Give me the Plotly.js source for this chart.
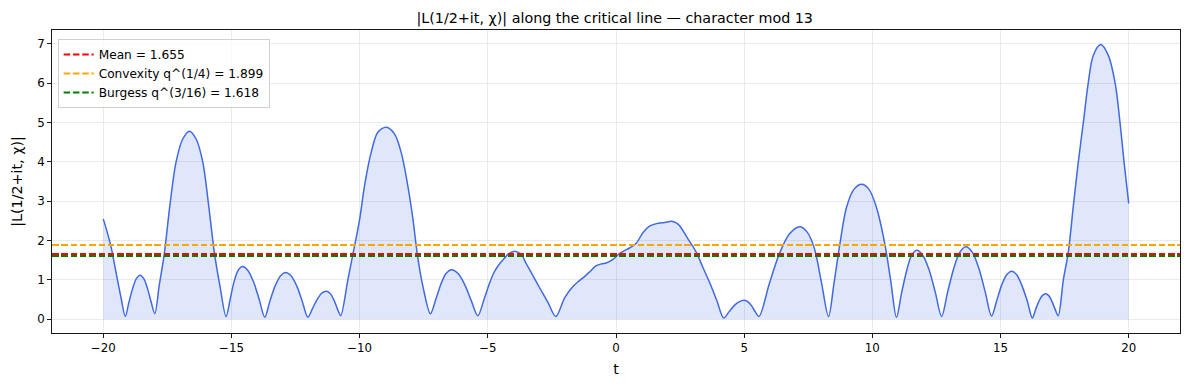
<!DOCTYPE html>
<html>
<head>
<meta charset="utf-8">
<script src="https://cdn.plot.ly/plotly-3.0.1.min.js"></script>
<style>html,body{margin:0;padding:0;background:#fff;}#chart{width:1189px;height:390px;}
.shapelayer path{shape-rendering:crispEdges;}</style>
</head>
<body>
<div id="chart"></div>
<script>
// Values read (estimated) from the reference picture
const tValues = [
  -20, -19.85, -19.7, -19.57, -19.44, -19.3, -19.14,
  -19.0, -18.85, -18.71, -18.56, -18.42, -18.28, -18.13, -17.99,
  -17.82, -17.62, -17.4, -17.16, -16.9, -16.64, -16.38, -16.12, -15.9, -15.66, -15.45, -15.21,
  -15.05, -14.9, -14.74, -14.58, -14.36, -14.14, -13.92, -13.70,
  -13.5, -13.3, -13.09, -12.89, -12.67, -12.45, -12.24, -12.02,
  -11.84, -11.66, -11.48, -11.3, -11.16, -11.01, -10.87, -10.74,
  -10.46, -10.26, -10.0, -9.81, -9.55, -9.29, -8.96, -8.64, -8.38, -8.12, -7.92, -7.75, -7.53, -7.24,
  -7.04, -6.83, -6.63, -6.42, -6.16, -5.91, -5.65, -5.39,
  -5.15, -4.93, -4.75, -4.54, -4.35, -4.2, -3.95, -3.7, -3.5, -3.25, -2.98, -2.65, -2.35,
  -2.0, -1.68, -1.45, -1.22, -1.0, -0.77, -0.55, -0.38, -0.12, 0.14, 0.35, 0.53, 0.80, 1.05, 1.32,
  1.58, 1.9, 2.16, 2.35, 2.49, 2.8, 3.14, 3.4, 3.66, 3.93, 4.20,
  4.4, 4.6, 4.8, 5.0, 5.15, 5.29, 5.44, 5.58,
  5.98, 6.37, 6.77, 7.17, 7.45, 7.73, 8.01, 8.29,
  8.5, 8.73, 8.99, 9.28, 9.58, 9.87, 10.16, 10.49, 10.72, 10.94,
  11.14, 11.34, 11.53, 11.73, 11.97, 12.22, 12.46, 12.70,
  12.94, 13.18, 13.41, 13.65, 13.9, 14.15, 14.4, 14.65,
  14.85, 15.04, 15.24, 15.43, 15.63, 15.83, 16.04, 16.24,
  16.37, 16.5, 16.63, 16.76, 16.88, 17.0, 17.13, 17.25,
  17.45, 17.64, 17.84, 18.03, 18.23, 18.42, 18.62, 18.91, 19.2, 19.47, 19.66, 19.82, 20.0
];
const absL = [
  2.55, 2.22, 1.85, 1.42, 0.98, 0.52, 0.07,
  0.43, 0.79, 1.03, 1.12, 1.03, 0.79, 0.43, 0.14,
  0.85, 1.66, 2.9, 4.0, 4.58, 4.78, 4.58, 4.0, 2.95, 1.66, 0.85, 0.07,
  0.51, 0.95, 1.24, 1.34, 1.24, 0.95, 0.51, 0.05,
  0.46, 0.84, 1.1, 1.19, 1.1, 0.84, 0.46, 0.05,
  0.27, 0.5, 0.66, 0.71, 0.66, 0.5, 0.27, 0.09,
  1.0, 1.66, 2.54, 3.39, 4.24, 4.75, 4.88, 4.71, 4.24, 3.39, 2.54, 1.65, 0.83, 0.14,
  0.48, 0.89, 1.16, 1.26, 1.16, 0.89, 0.48, 0.09,
  0.5, 0.92, 1.2, 1.41, 1.55, 1.66, 1.73, 1.65, 1.41, 1.12, 0.8, 0.42, 0.07,
  0.55, 0.83, 0.97, 1.09, 1.22, 1.36, 1.41, 1.43, 1.52, 1.67, 1.75, 1.81, 1.94, 2.2, 2.37,
  2.43, 2.46, 2.49, 2.45, 2.37, 2.05, 1.69, 1.3, 0.92, 0.48, 0.03,
  0.18, 0.34, 0.44, 0.48, 0.44, 0.34, 0.18, 0.07,
  0.9, 1.66, 2.17, 2.35, 2.22, 1.82, 0.95, 0.07,
  0.9, 1.9, 2.84, 3.3, 3.43, 3.3, 2.84, 1.9, 0.96, 0.05,
  0.67, 1.24, 1.62, 1.75, 1.62, 1.24, 0.67, 0.07,
  0.70, 1.30, 1.70, 1.84, 1.70, 1.30, 0.70, 0.08,
  0.47, 0.86, 1.13, 1.22, 1.13, 0.86, 0.47, 0.03,
  0.25, 0.46, 0.6, 0.65, 0.6, 0.46, 0.25, 0.09,
  1.0, 1.69, 2.88, 3.98, 5.0, 6.0, 6.71, 6.98, 6.71, 6.0, 5.0, 3.98, 2.94
];
const refNames = ["Mean = 1.655", "Convexity q^(1/4) = 1.899", "Burgess q^(3/16) = 1.618"];
const refValues = [1.655, 1.899, 1.618];
const refColors = ["red", "orange", "green"];
const xTicks = [-20, -15, -10, -5, 0, 5, 10, 15, 20];
const yTicks = [0, 1, 2, 3, 4, 5, 6, 7];

const font = "DejaVu Sans, sans-serif";

const curve = {
  x: tValues, y: absL, type: "scatter", mode: "lines",
  line: {color: "#4169E1", width: 1.5, shape: "spline", smoothing: 0.9},
  fill: "tozeroy", fillcolor: "rgba(65,105,225,0.16)",
  showlegend: false, hoverinfo: "skip"
};

const shapes = refValues.map((v, i) => ({
  type: "line", xref: "paper", x0: 0, x1: 1, yref: "y", y0: v, y1: v,
  line: {color: refColors[i], width: 2, dash: "6.5px,2.8px"},
  showlegend: true, name: refNames[i], layer: "above"
}));

const axisCommon = {
  showline: true, mirror: true, linecolor: "black", linewidth: 0.9,
  ticks: "outside", ticklen: 4, tickwidth: 0.9, tickcolor: "black",
  showgrid: true, gridcolor: "rgba(176,176,176,0.32)", gridwidth: 0.8,
  zeroline: false, tickfont: {family: font, size: 11.8, color: "black"}
};

const layout = {
  width: 1189, height: 390,
  margin: {l: 52, r: 9, t: 30, b: 57},
  paper_bgcolor: "white", plot_bgcolor: "white",
  font: {family: font, color: "black"},
  title: {text: "|L(1/2+it, χ)| along the critical line — character mod 13",
          font: {family: font, size: 14.3, color: "black"},
          x: 0.517, xanchor: "center", y: 0.955, yanchor: "middle"},
  xaxis: Object.assign({}, axisCommon, {
    range: [-22, 22], tickvals: xTicks, ticktext: xTicks.map(v => v < 0 ? "\u2212" + Math.abs(v) : String(v)),
    title: {text: "t", font: {family: font, size: 14.3}, standoff: 9}
  }),
  yaxis: Object.assign({}, axisCommon, {
    range: [-0.35, 7.35], tickvals: yTicks, ticktext: yTicks.map(String),
    title: {text: "|L(1/2+it, χ)|", font: {family: font, size: 14.3}, standoff: 11}
  }),
  showlegend: true,
  legend: {x: 0.005, y: 0.97, xanchor: "left", yanchor: "top",
           bgcolor: "rgba(255,255,255,0.8)", bordercolor: "#d0d0d0", borderwidth: 1,
           itemwidth: 30, tracegroupgap: 0,
           font: {family: font, size: 12.2, color: "black"}},
  shapes: shapes
};

Plotly.newPlot("chart", [curve], layout, {displayModeBar: false, staticPlot: true});
</script>
</body>
</html>
